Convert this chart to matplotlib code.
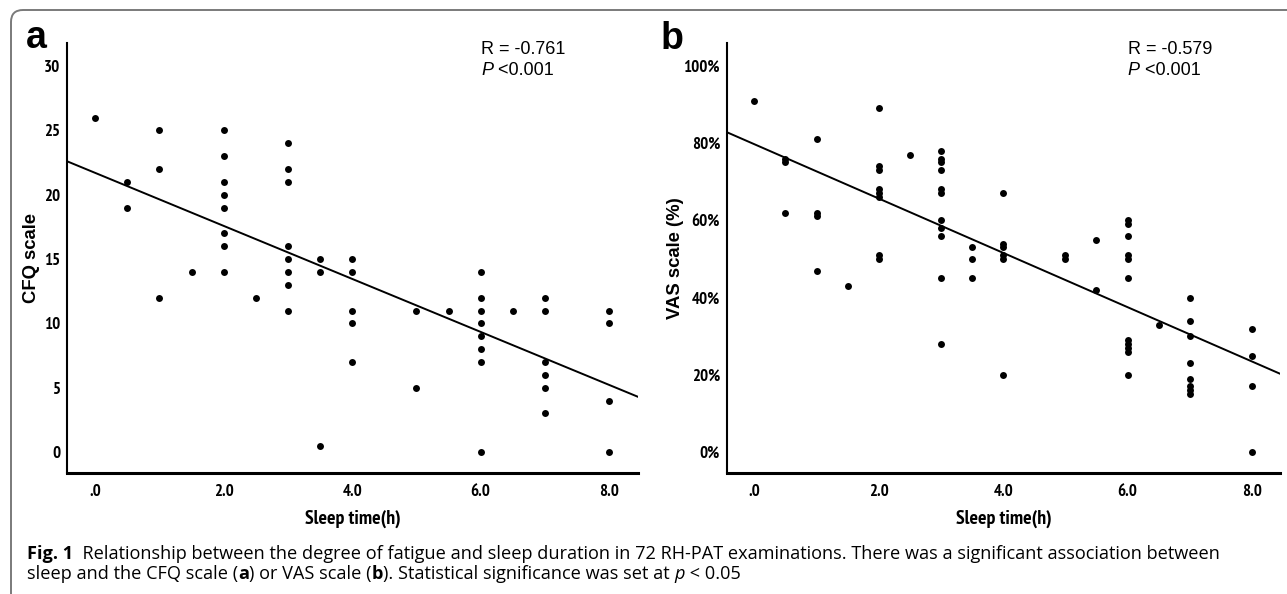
import numpy as np
import matplotlib.pyplot as plt
from matplotlib import font_manager as fm
from matplotlib.textpath import TextPath
from matplotlib.patches import FancyBboxPatch

# panel a: sleep time (h) vs CFQ scale
sleep_a = [0, 0.5, 0.5, 1, 1, 1, 1.5,
           2, 2, 2, 2, 2, 2, 2, 2, 2.5,
           3, 3, 3, 3, 3, 3, 3, 3, 3.5, 3.5, 3.5,
           4, 4, 4, 4, 4, 5, 5, 5.5,
           6, 6, 6, 6, 6, 6, 6, 6, 6.5,
           7, 7, 7, 7, 7, 7, 8, 8, 8, 8]
cfq = [26, 21, 19, 25, 22, 12, 14,
       25, 23, 21, 20, 19, 17, 16, 14, 12,
       24, 22, 21, 16, 15, 14, 13, 11, 15, 14, 0.5,
       15, 14, 11, 10, 7, 11, 5, 11,
       14, 12, 11, 10, 9, 8, 7, 0, 11,
       12, 11, 7, 6, 5, 3, 11, 10, 4, 0]

# panel b: sleep time (h) vs VAS scale (%)
sleep_b = [0, 0.5, 0.5, 0.5, 1, 1, 1, 1, 1.5,
           2, 2, 2, 2, 2, 2, 2, 2, 2.5,
           3, 3, 3, 3, 3, 3, 3, 3, 3, 3, 3,
           3.5, 3.5, 3.5, 4, 4, 4, 4, 4, 4, 5, 5, 5.5, 5.5,
           6, 6, 6, 6, 6, 6, 6, 6, 6, 6, 6, 6.5,
           7, 7, 7, 7, 7, 7, 7, 7, 8, 8, 8, 8]
vas = [91, 76, 75, 62, 81, 62, 61, 47, 43,
       89, 74, 73, 68, 67, 66, 51, 50, 77,
       78, 76, 75, 73, 68, 67, 60, 58, 56, 45, 28,
       53, 50, 45, 67, 54, 53, 51, 50, 20, 51, 50, 55, 42,
       60, 59, 56, 51, 50, 45, 29, 28, 27, 26, 20, 33,
       40, 34, 30, 23, 19, 17, 16, 15, 32, 25, 17, 0]

# fitted lines (intercept, slope)
fit_a = (21.7, -2.06)
fit_b = (79.7, -7.03)
stats_a = ('R = -0.761', '<0.001')
stats_b = ('R = -0.579', '<0.001')
xticks = [0, 2, 4, 6, 8]
xticklabels = ['.0', '2.0', '4.0', '6.0', '8.0']
yticks_a = [0, 5, 10, 15, 20, 25, 30]
yticks_b = [0, 20, 40, 60, 80, 100]
yticklabels_b = ['0%', '20%', '40%', '60%', '80%', '100%']

W, H = 1287, 594
fig = plt.figure(figsize=(W / 100, H / 100), dpi=100)

arial = ['Liberation Sans', 'DejaVu Sans']
cap_font = ['Open Sans', 'DejaVu Sans']


def weight_of(f):
    w = f.weight
    if isinstance(w, str):
        w = fm.weight_dict.get(w, 400)
    return w


def text_width(prop, s):
    return TextPath((0, 0), s, size=100, prop=prop).get_extents().width / 100


def cap_height(prop):
    return TextPath((0, 0), 'H', size=100, prop=prop).get_extents().height / 100


# pick the narrowest bold sans face installed (SPSS uses Arial Narrow Bold)
best, best_ratio = fm.FontProperties(family='Liberation Sans', weight='bold'), None
for f in fm.fontManager.ttflist:
    if weight_of(f) < 600 or f.style != 'normal' or 'CJK' in f.name:
        continue
    if not any(k in f.name for k in ['Sans', 'Roboto', 'Lato', 'Inter']):
        continue
    try:
        p = fm.FontProperties(fname=f.fname)
        ratio = text_width(p, 'Sleep time(h)') / cap_height(p)
    except Exception:
        continue
    if best_ratio is None or ratio < best_ratio:
        best, best_ratio = p, ratio

# sizes picked so label widths come close to the reference (px at 100 dpi)
xlab_size = 94 / text_width(best, 'Sleep time(h)') * 0.72
tick_size = 27 / text_width(best, '60%') * 0.72


def px_box(x0, x1, y0, y1):
    return [x0 / W, 1 - y1 / H, (x1 - x0) / W, (y1 - y0) / H]


def narrow(size):
    p = best.copy()
    p.set_size(size)
    return p


def panel(rect, x, y, fit, ylim, yticks, yticklabels, ylabel, ylab_x, stats):
    ax = fig.add_axes(rect)
    ax.plot(x, y, 'o', color='black', ms=5, mec='none')
    ax.axline((0, fit[0]), slope=fit[1], color='black', lw=1.4)
    ax.set_xlim(-0.44, 8.45)
    ax.set_ylim(*ylim)
    ax.set_xticks(xticks)
    ax.set_xticklabels(xticklabels)
    ax.set_yticks(yticks)
    ax.set_yticklabels(yticklabels)
    ax.tick_params(length=0)
    ax.tick_params(axis='x', pad=8)
    ax.tick_params(axis='y', pad=5)
    for lab in ax.get_xticklabels() + ax.get_yticklabels():
        lab.set_fontproperties(narrow(tick_size))
    for s in ['top', 'right']:
        ax.spines[s].set_visible(False)
    ax.spines['bottom'].set_linewidth(2.2)
    ax.spines['left'].set_linewidth(1.5)
    ax.set_xlabel('Sleep time(h)', fontproperties=narrow(xlab_size))
    ax.xaxis.set_label_coords(0.5, -0.086)
    ax.set_ylabel(ylabel, family=arial, fontweight='bold', fontsize=13.3)
    ax.yaxis.set_label_coords(ylab_x, 0.5)
    ax.text(0.725, 0.974, stats[0], transform=ax.transAxes, family=arial,
            fontsize=13, va='baseline')
    p = ax.text(0.725, 0.926, 'P', transform=ax.transAxes, family=arial,
                fontsize=13, style='italic', va='baseline')
    ax.annotate(' ' + stats[1], xy=(1, 0), xycoords=p, va='bottom',
                family=arial, fontsize=13)
    return ax


ax1 = panel(px_box(67, 638, 43, 473), sleep_a, cfq, fit_a, (-1.63, 31.8),
            yticks_a, [str(v) for v in yticks_a], 'CFQ scale', -0.047, stats_a)
ax2 = panel(px_box(727, 1280, 43, 473), sleep_b, vas, fit_b, (-5.4, 105.9),
            yticks_b, yticklabels_b, 'VAS scale (%)', -0.078, stats_b)

fig.text(26 / W, 1 - 48 / H, 'a', family=arial, fontweight='bold', fontsize=27,
         va='baseline')
fig.text(661 / W, 1 - 49 / H, 'b', family=arial, fontweight='bold', fontsize=27,
         va='baseline')

# frame around figure (top and left edges visible)
r = 12 / W
fig.add_artist(FancyBboxPatch((11 / W, -0.5), 1.5, 1.5 - 10 / H,
                              boxstyle=f'round,pad=0,rounding_size={r}',
                              mutation_aspect=W / H, transform=fig.transFigure,
                              fill=False, ec='#7a7a7a', lw=1.4, clip_on=False))

cap_size = 13.1


def chain(first, pieces):
    prev = first
    for txt, kw in pieces:
        prev = ax1.annotate(txt, xy=(1, 0), xycoords=prev, va='bottom',
                            family=cap_font, fontsize=cap_size,
                            annotation_clip=False, **kw)
    return prev


cap1 = fig.text(27 / W, 1 - 559 / H, 'Fig. 1', family=cap_font, fontweight='bold',
                fontsize=cap_size, va='baseline')
chain(cap1, [('  Relationship between the degree of fatigue and sleep duration in 72 RH-PAT '
              'examinations. There was a significant association between', {})])
cap2 = fig.text(27 / W, 1 - 579 / H, 'sleep and the CFQ scale (', family=cap_font,
                fontsize=cap_size, va='baseline')
chain(cap2, [('a', {'fontweight': 'bold'}), (') or VAS scale (', {}),
             ('b', {'fontweight': 'bold'}),
             ('). Statistical significance was set at ', {}),
             ('p', {'style': 'italic'}), (' < 0.05', {})])

fig.savefig('out.png', dpi=100)
